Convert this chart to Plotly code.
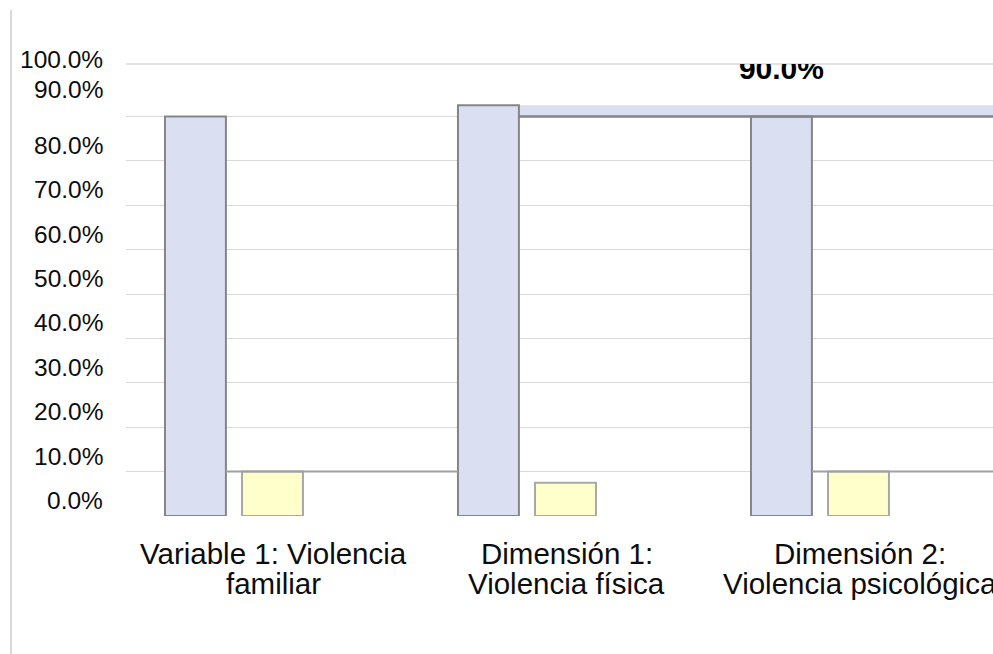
import plotly.graph_objects as go

# ---- data ----
categories = ["Variable 1: Violencia<br>familiar",
              "Dimensión 1:<br>Violencia física",
              "Dimensión 2:<br>Violencia psicológica"]
serie_a = [90.0, 92.5, 90.0]      # light-blue bars (%)
serie_b = [10.0, 7.5, 10.0]       # light-yellow bars (%)
y_tick_values = [0, 10, 20, 30, 40, 50, 60, 70, 80, 90, 100]
y_tick_labels = ["0.0%", "10.0%", "20.0%", "30.0%", "40.0%", "50.0%",
                 "60.0%", "70.0%", "80.0%", "90.0%", "100.0%"]
top_label = "90.0%"

# ---- style ----
W, H = 993, 654
ML, MR, MT, MB = 126, 0, 64, 138
cat_px = 293.0
plot_w = W - ML - MR
plot_h = H - MT - MB
x_range = [-0.5, -0.5 + plot_w / cat_px]
y_range = [0, 101.8]
off_a, off_b, bw = -0.367, -0.104, 0.208
blue, yellow = "#DAE0F2", "#FFFFCC"
grid = "#D9D9D9"
font_family = "Liberation Sans, Arial, sans-serif"
txt = "#0D0D0D"
ytick_size = 24.5
xtick_size = 29.5

xs = list(range(len(categories)))

fig = go.Figure()
fig.add_trace(go.Bar(x=xs, y=serie_a, offset=off_a, width=bw,
                     marker=dict(color=blue, line=dict(color="#858585", width=2)),
                     showlegend=False, hoverinfo="skip"))
fig.add_trace(go.Bar(x=xs, y=serie_b, offset=off_b, width=bw,
                     marker=dict(color=yellow, line=dict(color="#A8A8A8", width=2)),
                     showlegend=False, hoverinfo="skip"))
# clipped data label above third blue bar
fig.add_trace(go.Scatter(x=[xs[2] + off_a + bw / 2], y=[100.2], mode="text",
                         text=[top_label], textposition="middle center",
                         textfont=dict(family=font_family, size=30, color="#000000",
                                       weight="bold"),
                         cliponaxis=True, showlegend=False, hoverinfo="skip"))

shapes = []
# rendering artefacts of the original chart
shapes.append(dict(type="rect", xref="x", yref="y",
                   x0=xs[1] + off_a + bw, x1=x_range[1],
                   y0=serie_a[2], y1=serie_a[1],
                   fillcolor=blue, line=dict(width=0), layer="between"))
shapes.append(dict(type="line", xref="x", yref="y",
                   x0=xs[1] + off_a + bw, x1=x_range[1],
                   y0=serie_a[2], y1=serie_a[2],
                   line=dict(color="#858585", width=2.5), layer="above"))
shapes.append(dict(type="line", xref="x", yref="y",
                   x0=xs[0] + off_a + bw, x1=xs[1] + off_a,
                   y0=serie_b[0], y1=serie_b[0],
                   line=dict(color="#A0A0A0", width=2), layer="above"))
shapes.append(dict(type="line", xref="x", yref="y",
                   x0=xs[2] + off_a + bw, x1=x_range[1],
                   y0=serie_b[2], y1=serie_b[2],
                   line=dict(color="#A0A0A0", width=2), layer="above"))
# top gridline
shapes.append(dict(type="line", xref="paper", yref="paper", x0=0, x1=1, y0=1, y1=1,
                   line=dict(color=grid, width=1.5), layer="below"))
# left border line of chart area
shapes.append(dict(type="line", xref="paper", yref="paper",
                   x0=(11 - ML) / plot_w, x1=(11 - ML) / plot_w,
                   y0=-MB / plot_h, y1=(H - MB - 10) / plot_h,
                   line=dict(color=grid, width=2)))

annotations = []
# y tick labels
for v, lab in zip(y_tick_values, y_tick_labels):
    if v <= 80:
        annotations.append(dict(xref="paper", yref="y", x=0, y=v, xshift=-21, yshift=15.5,
                                xanchor="right", yanchor="middle", showarrow=False,
                                text=lab, font=dict(family=font_family, size=ytick_size, color=txt)))
    elif v == 90:
        annotations.append(dict(xref="paper", yref="y", x=0, y=v, xshift=-21, yshift=27,
                                xanchor="right", yanchor="middle", showarrow=False,
                                text=lab, font=dict(family=font_family, size=ytick_size, color=txt)))
    else:
        annotations.append(dict(xref="paper", yref="paper", x=0, y=1, xshift=-21, yshift=5,
                                xanchor="right", yanchor="middle", showarrow=False,
                                text=lab, font=dict(family=font_family, size=ytick_size, color=txt)))
# category labels, two lines each with tight spacing
for i, c in enumerate(categories):
    parts = c.split("<br>")
    for j, p in enumerate(parts):
        annotations.append(dict(xref="x", yref="paper", x=xs[i] + 0.005, y=0,
                                yshift=-37 - 30 * j, xanchor="center", yanchor="middle",
                                showarrow=False, text=p,
                                font=dict(family=font_family, size=xtick_size, color=txt)))

fig.update_layout(
    width=W, height=H, margin=dict(l=ML, r=MR, t=MT, b=MB),
    paper_bgcolor="white", plot_bgcolor="white", hovermode=False,
    barmode="overlay", shapes=shapes, annotations=annotations,
    xaxis=dict(range=x_range, showgrid=False, zeroline=False, showticklabels=False,
               showline=False, fixedrange=True),
    yaxis=dict(range=y_range, tickvals=y_tick_values[:-1], showticklabels=False,
               showgrid=True, gridcolor=grid, gridwidth=1.3, zeroline=False,
               showline=False, fixedrange=True),
)

fig.write_html("out.html", config={"displayModeBar": False},
               post_script="document.body.style.margin='0';document.body.style.overflow='hidden';")
